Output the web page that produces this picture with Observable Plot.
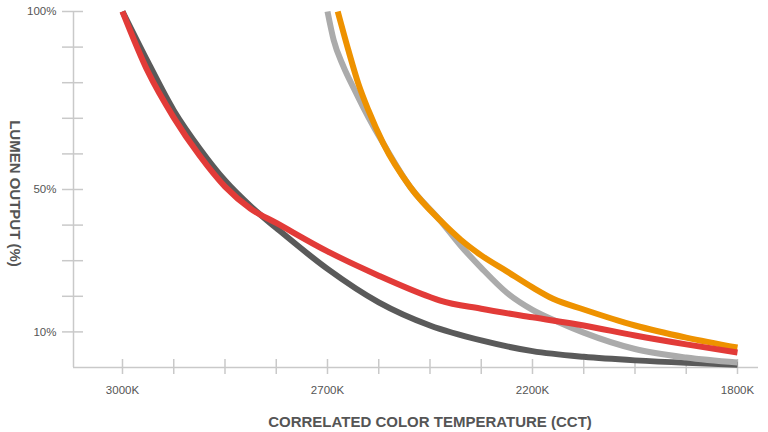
<!DOCTYPE html>
<html>
<head>
<meta charset="utf-8">
<script src="https://cdn.jsdelivr.net/npm/d3@7"></script>
<script src="https://cdn.jsdelivr.net/npm/@observablehq/plot@0.6"></script>
<style>
  body { margin: 0; background: #ffffff; }
  #chart svg { display: block; }
</style>
</head>
<body>
<div id="chart"></div>
<script>
// ---- Axis categories (CCT ticks are evenly spaced steps) ----
const cctTickSteps = [0,1,2,3,4,5,6,7,8,9,10,11,12];
const cctLabelSteps = [0, 4, 8, 12];
const cctLabels = ["3000K", "2700K", "2200K", "1800K"];
const yTickValues = [10,20,30,40,50,60,70,80,90,100];
const yLabelValues = [10, 50, 100];
const yLabels = ["10%", "50%", "100%"];
const xTitle = "CORRELATED COLOR TEMPERATURE (CCT)";
const yTitle = "LUMEN OUTPUT (%)";

// ---- Series (x = CCT step position, y = lumen output %) ----
const darkSteps = [0, 0.5, 1, 1.5, 2, 2.5, 3, 4, 5, 6, 7, 8, 9, 10, 11, 12];
const darkValues = [100, 85.7, 72.2, 61.6, 52.5, 45.3, 39.2, 27.7, 18.3, 11.8, 7.6, 4.6, 3.0, 2.0, 1.3, 0.8];

const redSteps = [0, 0.5, 1, 1.5, 2, 2.5, 3, 4, 5, 6, 6.2, 7, 8, 9, 10, 11, 12];
const redValues = [100, 83, 70.2, 59.6, 50.8, 44.6, 40.6, 32.6, 25.8, 19.8, 18.8, 16.5, 14.1, 11.8, 9.0, 6.5, 4.2];

const graySteps = [4, 4.12, 4.31, 4.51, 4.7, 4.9, 5.09, 5.62, 6.2, 6.6, 7, 7.5, 8, 8.5, 9, 10, 11, 12];
const grayValues = [100, 92, 84.6, 78.5, 73, 67.6, 62.9, 50.6, 41.3, 34.2, 28, 21, 16.2, 12.8, 9.8, 5.2, 2.8, 1.4];

const orangeSteps = [4.2, 4.41, 4.6, 4.8, 5.09, 5.62, 6.2, 6.6, 7, 7.5, 8, 8.4, 9, 10, 11, 12];
const orangeValues = [100, 89, 79.8, 72.2, 62.9, 50.6, 41.3, 35.9, 31.5, 27, 22.5, 19.3, 16.3, 11.8, 8.4, 5.6];

const seriesColors = { dark: "#5a5a5a", gray: "#ababab", orange: "#ee9200", red: "#e23b38" };

function toRows(steps, values, key) {
  return steps.map((s, i) => ({ step: s, value: values[i], series: key }));
}
const darkRows = toRows(darkSteps, darkValues, "dark");
const grayRows = toRows(graySteps, grayValues, "gray");
const orangeRows = toRows(orangeSteps, orangeValues, "orange");
const redRows = toRows(redSteps, redValues, "red");

const labelMap = new Map(cctLabelSteps.map((s, i) => [s, cctLabels[i]]));
const yLabelMap = new Map(yLabelValues.map((v, i) => [v, yLabels[i]]));

const font = "'Liberation Sans', Arial, Helvetica, sans-serif";
const axisColor = "#c9c9c9";
const textColor = "#555555";

const lineOpts = (color) => ({
  x: "step", y: "value", stroke: color, strokeWidth: 6,
  curve: "monotone-x", strokeLinecap: "butt", strokeLinejoin: "round"
});

const chart = Plot.plot({
  width: 768,
  height: 432,
  marginLeft: 73,
  marginRight: 10,
  marginTop: 11,
  marginBottom: 65,
  style: { fontFamily: font, background: "#ffffff" },
  x: { domain: [-0.956, 12.41] },
  y: { domain: [0, 100] },
  marks: [
    Plot.ruleY([0], { stroke: axisColor, strokeWidth: 1.5 }),
    Plot.ruleX([-0.956], { stroke: axisColor, strokeWidth: 1.5 }),
    Plot.axisY(yTickValues, {
      anchor: "left", tickSize: 21, dx: 10, tickPadding: 6,
      tickFormat: (d) => yLabelMap.get(d) ?? "",
      stroke: axisColor, strokeWidth: 1.5, fill: textColor, fontSize: 11.5, label: null
    }),
    Plot.axisX(cctTickSteps, {
      anchor: "bottom", tickSize: 15, dy: -8, tickPadding: 11,
      tickFormat: (d) => labelMap.get(d) ?? "",
      stroke: axisColor, strokeWidth: 1.5, fill: textColor, fontSize: 11.5, label: null
    }),
    Plot.line(darkRows, lineOpts(seriesColors.dark)),
    Plot.line(grayRows, lineOpts(seriesColors.gray)),
    Plot.line(orangeRows, lineOpts(seriesColors.orange)),
    Plot.line(redRows, lineOpts(seriesColors.red)),
    Plot.text([yTitle], {
      frameAnchor: "left", rotate: 90, dx: -59, dy: 4, text: (d) => d,
      fontWeight: "bold", fontSize: 15, fill: textColor, textAnchor: "middle"
    }),
    Plot.text([xTitle], {
      x: () => d3.mean(cctLabelSteps), frameAnchor: "bottom", dy: 59, text: (d) => d,
      fontWeight: "bold", fontSize: 15, fill: textColor, textAnchor: "middle"
    })
  ]
});
document.getElementById("chart").appendChild(chart);
</script>
</body>
</html>
